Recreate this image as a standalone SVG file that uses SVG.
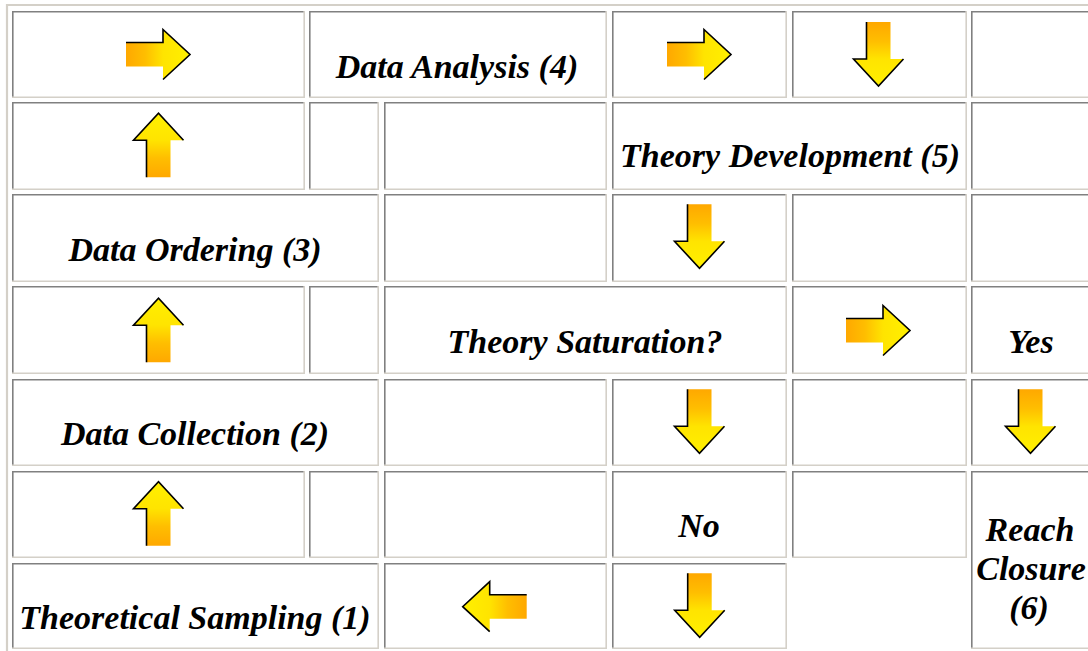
<svg xmlns="http://www.w3.org/2000/svg" xmlns:xlink="http://www.w3.org/1999/xlink" width="1088" height="651" viewBox="0 0 1088 651">
<style>
.dk{fill:none;stroke:#808080;stroke-width:1.6}
.lt{fill:none;stroke:#d4d0c8;stroke-width:1.6}
.ob{fill:none;stroke:#d4d0c8;stroke-width:2.2}
.t{font-family:"Liberation Serif","Times New Roman",serif;font-weight:bold;font-style:italic;font-size:34px;text-anchor:middle;fill:#000}
</style>
<defs>
<linearGradient id="gArw" x1="0" y1="0" x2="0" y2="1">
<stop offset="0" stop-color="#FFF000"/>
<stop offset="0.42" stop-color="#FFE400"/>
<stop offset="0.7" stop-color="#FFBE00"/>
<stop offset="1" stop-color="#FFA800"/>
</linearGradient>
<g id="arw">
<path d="M0,0 L25,27 L12,27 L12,64 L-12,64 L-12,27 L-25,27 Z" fill="url(#gArw)"/>
<path d="M-12,64 V27 H-25 L0,0 L25,27" fill="none" stroke="#000" stroke-width="1.6"/>
</g>
</defs>
<rect width="1088" height="651" fill="#ffffff"/>
<path class="ob" d="M7,651 V5 H1088"/>

<g id="r1c1"><path class="dk" d="M12.8,98 V11.8 H305"/><path class="lt" d="M12,97.2 H304.2 V11"/></g>
<g id="r1c2"><path class="dk" d="M309.8,98 V11.8 H607"/><path class="lt" d="M309,97.2 H606.2 V11"/><text class="t" x="457" y="78">Data Analysis (4)</text></g>
<g id="r1c4"><path class="dk" d="M612.8,98 V11.8 H787"/><path class="lt" d="M612,97.2 H786.2 V11"/></g>
<g id="r1c5"><path class="dk" d="M792.8,98 V11.8 H967"/><path class="lt" d="M792,97.2 H966.2 V11"/></g>
<g id="r1c6"><path class="dk" d="M971.8,98 V11.8 H1120"/><path class="lt" d="M971,97.2 H1120"/></g>

<g id="r2c1"><path class="dk" d="M12.8,190 V102.8 H305"/><path class="lt" d="M12,189.2 H304.2 V102"/></g>
<g id="r2c2"><path class="dk" d="M309.8,190 V102.8 H379"/><path class="lt" d="M309,189.2 H378.2 V102"/></g>
<g id="r2c3"><path class="dk" d="M384.8,190 V102.8 H607"/><path class="lt" d="M384,189.2 H606.2 V102"/></g>
<g id="r2c4"><path class="dk" d="M612.8,190 V102.8 H967"/><path class="lt" d="M612,189.2 H966.2 V102"/><text class="t" x="790" y="167">Theory Development (5)</text></g>
<g id="r2c6"><path class="dk" d="M971.8,190 V102.8 H1120"/><path class="lt" d="M971,189.2 H1120"/></g>

<g id="r3c1"><path class="dk" d="M12.8,282 V194.8 H379"/><path class="lt" d="M12,281.2 H378.2 V194"/><text class="t" x="195" y="261">Data Ordering (3)</text></g>
<g id="r3c3"><path class="dk" d="M384.8,282 V194.8 H607"/><path class="lt" d="M384,281.2 H606.2 V194"/></g>
<g id="r3c4"><path class="dk" d="M612.8,282 V194.8 H787"/><path class="lt" d="M612,281.2 H786.2 V194"/></g>
<g id="r3c5"><path class="dk" d="M792.8,282 V194.8 H967"/><path class="lt" d="M792,281.2 H966.2 V194"/></g>
<g id="r3c6"><path class="dk" d="M971.8,282 V194.8 H1120"/><path class="lt" d="M971,281.2 H1120"/></g>

<g id="r4c1"><path class="dk" d="M12.8,374 V286.8 H305"/><path class="lt" d="M12,373.2 H304.2 V286"/></g>
<g id="r4c2"><path class="dk" d="M309.8,374 V286.8 H379"/><path class="lt" d="M309,373.2 H378.2 V286"/></g>
<g id="r4c3"><path class="dk" d="M384.8,374 V286.8 H787"/><path class="lt" d="M384,373.2 H786.2 V286"/><text class="t" x="585" y="353">Theory Saturation?</text></g>
<g id="r4c5"><path class="dk" d="M792.8,374 V286.8 H967"/><path class="lt" d="M792,373.2 H966.2 V286"/></g>
<g id="r4c6"><path class="dk" d="M971.8,374 V286.8 H1120"/><path class="lt" d="M971,373.2 H1120"/><text class="t" x="1031" y="353">Yes</text></g>

<g id="r5c1"><path class="dk" d="M12.8,466 V379.8 H379"/><path class="lt" d="M12,465.2 H378.2 V379"/><text class="t" x="195" y="445">Data Collection (2)</text></g>
<g id="r5c3"><path class="dk" d="M384.8,466 V379.8 H607"/><path class="lt" d="M384,465.2 H606.2 V379"/></g>
<g id="r5c4"><path class="dk" d="M612.8,466 V379.8 H787"/><path class="lt" d="M612,465.2 H786.2 V379"/></g>
<g id="r5c5"><path class="dk" d="M792.8,466 V379.8 H967"/><path class="lt" d="M792,465.2 H966.2 V379"/></g>
<g id="r5c6"><path class="dk" d="M971.8,466 V379.8 H1120"/><path class="lt" d="M971,465.2 H1120"/></g>

<g id="r6c1"><path class="dk" d="M12.8,558 V471.8 H305"/><path class="lt" d="M12,557.2 H304.2 V471"/></g>
<g id="r6c2"><path class="dk" d="M309.8,558 V471.8 H379"/><path class="lt" d="M309,557.2 H378.2 V471"/></g>
<g id="r6c3"><path class="dk" d="M384.8,558 V471.8 H607"/><path class="lt" d="M384,557.2 H606.2 V471"/></g>
<g id="r6c4"><path class="dk" d="M612.8,558 V471.8 H787"/><path class="lt" d="M612,557.2 H786.2 V471"/><text class="t" x="699" y="537">No</text></g>
<g id="r6c5"><path class="dk" d="M792.8,558 V471.8 H967"/><path class="lt" d="M792,557.2 H966.2 V471"/></g>
<g id="r6c6"><path class="dk" d="M971.8,649 V471.8 H1120"/><path class="lt" d="M971,648.2 H1120"/><text class="t" x="1030" y="541">Reach</text><text class="t" x="1031" y="580">Closure</text><text class="t" x="1029" y="619">(6)</text></g>

<g id="r7c1"><path class="dk" d="M12.8,649 V563.8 H379"/><path class="lt" d="M12,648.2 H378.2 V563"/><text class="t" x="195" y="629">Theoretical Sampling (1)</text></g>
<g id="r7c3"><path class="dk" d="M384.8,649 V563.8 H607"/><path class="lt" d="M384,648.2 H606.2 V563"/></g>
<g id="r7c4"><path class="dk" d="M612.8,649 V563.8 H787"/><path class="lt" d="M612,648.2 H786.2 V563"/></g>

<g id="connectors">
<use xlink:href="#arw" transform="translate(190,54.5) rotate(90)"/>
<use xlink:href="#arw" transform="translate(731,54.5) rotate(90)"/>
<use xlink:href="#arw" transform="translate(878.5,86) scale(1,-1)"/>
<use xlink:href="#arw" transform="translate(158.5,113.3)"/>
<use xlink:href="#arw" transform="translate(699.5,268.3) scale(1,-1)"/>
<use xlink:href="#arw" transform="translate(158.5,298.3)"/>
<use xlink:href="#arw" transform="translate(910,330.5) rotate(90)"/>
<use xlink:href="#arw" transform="translate(699.5,453.3) scale(1,-1)"/>
<use xlink:href="#arw" transform="translate(1030.5,453.3) scale(1,-1)"/>
<use xlink:href="#arw" transform="translate(158.5,481.7)"/>
<use xlink:href="#arw" transform="translate(462.7,606.7) scale(-1,1) rotate(90)"/>
<use xlink:href="#arw" transform="translate(699.7,637.3) scale(1,-1)"/>
</g>
</svg>
